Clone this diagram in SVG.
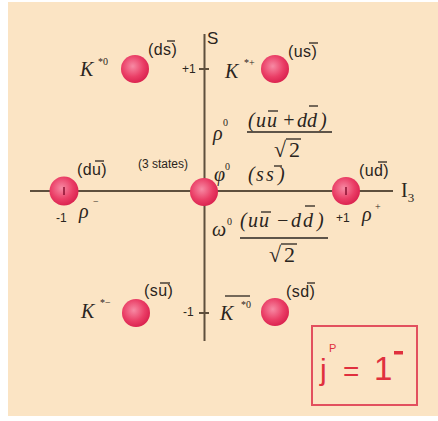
<svg xmlns="http://www.w3.org/2000/svg" width="438" height="421" viewBox="0 0 438 421">
<defs>
<radialGradient id="ball" cx="0.42" cy="0.4" r="0.65">
<stop offset="0" stop-color="#f78aa4"/>
<stop offset="0.6" stop-color="#ea3e66"/>
<stop offset="1" stop-color="#d81e4c"/>
</radialGradient>
<style>
.q{font-family:"Liberation Sans",Arial,sans-serif;font-size:16px;letter-spacing:0.4px;fill:#2a2420}
.sm{font-family:"Liberation Sans",Arial,sans-serif;font-size:12px;fill:#2a2420}
.m{font-family:"Liberation Serif","Times New Roman",serif;font-style:italic;font-size:20px;fill:#2a2420}
.sup{font-family:"Liberation Serif","Times New Roman",serif;font-size:10px;fill:#2a2420}
.ax{stroke:#5e4f3d;stroke-width:2;fill:none}
.ball{fill:url(#ball)}
.bar{stroke:#2a2420;stroke-width:1.3}
.mk{stroke:#8a1030;stroke-width:1.5}
.red{font-family:"Liberation Sans",Arial,sans-serif;fill:#e0303e}
</style>
</defs>
<rect x="8" y="2" width="430" height="414" fill="#fbe4c4"/>
<g id="axes">
<line class="ax" x1="204.5" y1="34" x2="204.5" y2="341"/>
<line class="ax" x1="30" y1="191" x2="393" y2="191"/>
<line class="ax" x1="199" y1="69" x2="209" y2="69"/>
<line class="ax" x1="199" y1="313" x2="209" y2="313"/>
<text x="207" y="44" font-family="Liberation Sans,sans-serif" font-size="17" fill="#2a2420">S</text>
<text x="401" y="197" font-family="Liberation Serif,serif" font-size="20" fill="#2a2420">I<tspan font-size="13" dy="5">3</tspan></text>
<text class="sm" x="182" y="73">+1</text>
<text class="sm" x="183" y="316">-1</text>
</g>
<g id="Kstar0">
<circle class="ball" cx="135" cy="69" r="14"/>
<text class="m" x="80" y="76">K</text><text class="sup" x="98" y="65">*0</text>
<text class="q" x="148" y="55">(ds)</text>
<line class="bar" x1="167" y1="41" x2="175" y2="41"/>
</g>
<g id="Kstarplus">
<circle class="ball" cx="275" cy="69" r="14"/>
<text class="m" x="225" y="78">K</text><text class="sup" x="244" y="66">*+</text>
<text class="q" x="288" y="57">(us)</text>
<line class="bar" x1="309" y1="43" x2="318" y2="43"/>
</g>
<g id="rhominus">
<circle class="ball" cx="64" cy="191" r="14.5"/>
<line class="mk" x1="64" y1="187" x2="64" y2="195"/>
<text class="q" x="77" y="175">(du)</text>
<line class="bar" x1="95" y1="161" x2="104" y2="161"/>
<text class="sm" x="56" y="222">-1</text>
<text class="m" x="79" y="218">ρ</text><text class="sup" x="93" y="205">−</text>
</g>
<g id="center">
<circle class="ball" cx="204" cy="192" r="14"/>
<text class="sm" x="138" y="168" font-size="11">(3 states)</text>
<text class="m" x="213" y="140">ρ</text><text class="sup" x="223" y="126" font-size="9">0</text>
<text class="m" x="248 256 267 282 297 307 320" y="127">(uu+dd)</text>
<line class="bar" x1="268" y1="111" x2="278" y2="111"/>
<line class="bar" x1="309" y1="106" x2="318" y2="106"/>
<line x1="247" y1="132" x2="332" y2="132" stroke="#2a2420" stroke-width="1.3"/>
<text x="274" y="157" font-family="Liberation Serif,serif" font-size="22" fill="#2a2420">√<tspan x="289">2</tspan></text>
<line class="bar" x1="286" y1="139" x2="301" y2="139"/>
<text class="m" x="214" y="181">φ</text><text class="sup" x="225" y="170" font-size="9">0</text>
<text class="m" x="248 256 266 278" y="181">(ss)</text>
<line class="bar" x1="274" y1="166" x2="282" y2="166"/>
<text class="m" x="212" y="236">ω</text><text class="sup" x="227" y="225" font-size="9">0</text>
<text class="m" x="240 248 259 276 291 303 317" y="227">(uu−dd)</text>
<line class="bar" x1="261" y1="212" x2="271" y2="212"/>
<line class="bar" x1="305" y1="206" x2="315" y2="206"/>
<line x1="240" y1="238" x2="328" y2="238" stroke="#2a2420" stroke-width="1.3"/>
<text x="269" y="262" font-family="Liberation Serif,serif" font-size="22" fill="#2a2420">√<tspan x="284">2</tspan></text>
<line class="bar" x1="281" y1="244" x2="297" y2="244"/>
</g>
<g id="rhoplus">
<circle class="ball" cx="346" cy="191" r="14"/>
<line class="mk" x1="346" y1="187" x2="346" y2="195"/>
<text class="q" x="359" y="176">(ud)</text>
<line class="bar" x1="378" y1="162" x2="387" y2="162"/>
<text class="sm" x="336" y="222">+1</text>
<text class="m" x="362" y="221">ρ</text><text class="sup" x="375" y="210">+</text>
</g>
<g id="Kstarminus">
<circle class="ball" cx="136" cy="313" r="14"/>
<text class="m" x="81" y="318">K</text><text class="sup" x="100" y="306">*−</text>
<text class="q" x="144" y="296">(su)</text>
<line class="bar" x1="160" y1="283" x2="170" y2="283"/>
</g>
<g id="Kstar0bar">
<circle class="ball" cx="275" cy="312" r="14"/>
<line class="bar" x1="225" y1="296" x2="250" y2="296"/>
<text class="m" x="220" y="320">K</text><text class="sup" x="241" y="308">*0</text>
<text class="q" x="286" y="297">(sd)</text>
<line class="bar" x1="307" y1="283" x2="315" y2="283"/>
</g>
<g id="jp">
<rect x="312" y="326" width="105" height="79" fill="none" stroke="#e2505e" stroke-width="2"/>
<text class="red" x="320" y="380" font-size="30">j</text>
<text class="red" x="329" y="352" font-size="11">P</text>
<text class="red" x="343" y="381" font-size="28">=</text>
<text class="red" x="374" y="380" font-size="33">1</text>
<rect x="394" y="351" width="9" height="3.5" fill="#e0303e"/>
</g>
</svg>
